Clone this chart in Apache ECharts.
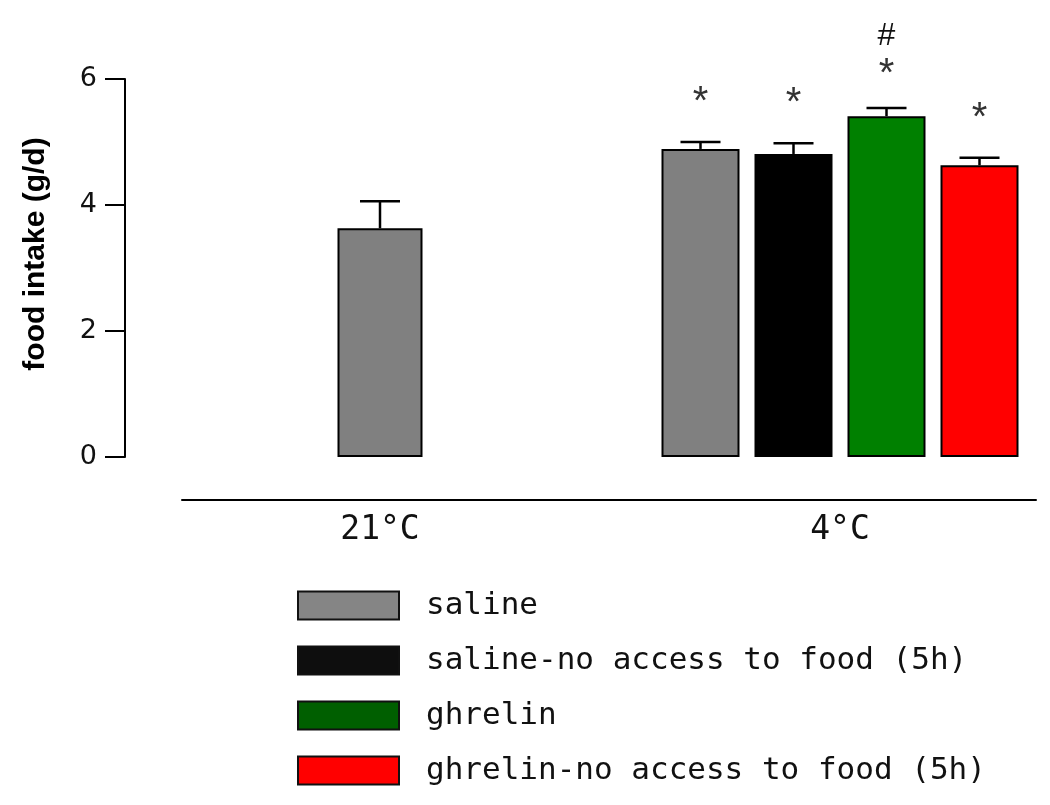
<!DOCTYPE html>
<html lang="en">
<head>
    <meta charset="UTF-8">
    <title>food intake</title>
    <script src="https://cdn.jsdelivr.net/npm/echarts@6/dist/echarts.min.js"></script>
</head>
<body style="margin: 0; background-color: #fff">
<div id="container" style="width: 1050px; height: 805px"></div>
<script type="text/javascript">
    // data
    let categories = ['21°C', '4°C'];
    let groups = ['saline', 'saline-no access to food (5h)', 'ghrelin', 'ghrelin-no access to food (5h)'];
    let barColors = ['#808080', '#000000', '#008000', '#ff0000'];
    let legendColors = ['#858585', '#0e0e0e', '#005f00', '#ff0000'];
    let warmMean = [3.63];
    let warmSem = [0.43];
    let coldMean = [4.89, 4.81, 5.41, 4.63];
    let coldSem = [0.11, 0.17, 0.13, 0.12];
    let coldStar = ['*', '*', '*', '*'];
    let coldHash = ['', '', '#', ''];
    let yMin = 0, yMax = 6, yStep = 2;

    const BAR_W = 78, GAP = 15, WARM_W = 85;
    const TEXT_FONT = 'DejaVu Sans Mono';

    let dom = document.getElementById('container');
    let myChart = echarts.init(dom);

    function drawError(api, x, mean, sem, star, hash) {
        let base = api.coord([api.value(0), mean]);
        let top = api.coord([api.value(0), mean + sem]);
        let line = {stroke: '#000', lineWidth: 2.5};
        let children = [
            {type: 'line', shape: {x1: x, y1: base[1], x2: x, y2: top[1]}, style: line},
            {type: 'line', shape: {x1: x - 20, y1: top[1], x2: x + 20, y2: top[1]}, style: line}
        ];
        if (star) {
            // star sits a bit lower when a # is stacked over it
            children.push({type: 'text', x: x, y: top[1] - (hash ? 33 : 39), style: {
                text: star, fontSize: 40, fontFamily: 'Liberation Sans', fill: '#333',
                align: 'center', verticalAlign: 'middle'}});
        }
        if (hash) {
            children.push({type: 'text', x: x, y: top[1] - 72, style: {
                text: hash, fontSize: 32, fontFamily: 'Liberation Sans', fill: '#111',
                align: 'center', verticalAlign: 'middle'}});
        }
        return {type: 'group', children: children};
    }

    let series = [];
    // 21°C saline bar
    series.push({
        name: groups[0], type: 'bar', xAxisIndex: 0, yAxisIndex: 0,
        barWidth: WARM_W, clip: false,
        data: [warmMean[0], '-'],
        itemStyle: {color: barColors[0], borderColor: '#000', borderWidth: 2}
    });
    series.push({
        type: 'custom', xAxisIndex: 0, yAxisIndex: 0, silent: true, clip: false,
        data: [[0, warmMean[0], warmSem[0]]],
        encode: {x: 0, y: 1},
        renderItem: function (params, api) {
            let c = api.coord([api.value(0), 0]);
            return drawError(api, c[0], api.value(1), api.value(2), '', '');
        },
        z: 3
    });
    // 4°C groups
    for (let i = 0; i < groups.length; i++) {
        series.push({
            name: groups[i], type: 'bar', xAxisIndex: 1, yAxisIndex: 0,
            barWidth: BAR_W, barGap: (GAP / BAR_W * 100) + '%', clip: false,
            data: ['-', coldMean[i]],
            itemStyle: {color: barColors[i], borderColor: '#000', borderWidth: 2}
        });
    }
    series.push({
        type: 'custom', xAxisIndex: 1, yAxisIndex: 0, silent: true, clip: false,
        data: coldMean.map(function (m, i) { return [1, m, coldSem[i], i]; }),
        encode: {x: 0, y: 1},
        renderItem: function (params, api) {
            let i = api.value(3);
            let c = api.coord([api.value(0), 0]);
            let x = c[0] + (i - (groups.length - 1) / 2) * (BAR_W + GAP);
            return drawError(api, x, api.value(1), api.value(2), coldStar[i], coldHash[i]);
        },
        z: 3
    });

    let option = {
        animation: false,
        grid: [
            // categories sit on the grid edges (boundaryGap false)
            {left: 380, right: 210, top: 79, bottom: 348},
            {left: 182, right: 14, top: 79, bottom: 348}
        ],
        legend: {
            orient: 'vertical',
            left: 297, top: 590, height: 215,
            padding: 0,
            itemWidth: 101, itemHeight: 28, itemGap: 24,
            icon: 'rect',
            selectedMode: false,
            data: groups.map(function (g, i) {
                return {name: g, itemStyle: {color: legendColors[i], borderColor: '#111', borderWidth: 2}};
            }),
            textStyle: {
                fontFamily: TEXT_FONT, fontSize: 31, color: '#111',
                padding: [0, 0, 0, 22]
            }
        },
        xAxis: [
            {
                gridIndex: 0, type: 'category', data: categories, boundaryGap: false,
                axisLine: {show: false}, axisTick: {show: false},
                axisLabel: {fontFamily: TEXT_FONT, fontSize: 33, color: '#111', margin: 57}
            },
            {gridIndex: 0, type: 'category', data: categories, boundaryGap: false, show: false},
            {
                gridIndex: 1, type: 'value', min: 0, max: 1,
                offset: 43,
                axisLine: {show: true, onZero: false, lineStyle: {color: '#000', width: 2}},
                axisTick: {show: false}, axisLabel: {show: false}, splitLine: {show: false}
            }
        ],
        yAxis: [
            {
                gridIndex: 0, type: 'value', min: yMin, max: yMax, interval: yStep,
                offset: 255,
                name: 'food intake (g/d)', nameLocation: 'middle', nameGap: 74,
                nameTextStyle: {
                    fontFamily: 'Liberation Sans', fontWeight: 'bold', fontSize: 30, color: '#000',
                    padding: [0, 0, 0, 28]
                },
                axisLine: {show: true, onZero: false, lineStyle: {color: '#000', width: 2}},
                axisTick: {show: true, length: 20, lineStyle: {color: '#000', width: 2}},
                axisLabel: {fontFamily: 'DejaVu Sans', fontSize: 27, color: '#111', margin: 28},
                splitLine: {show: false}
            },
            {gridIndex: 1, type: 'value', min: 0, max: 1, show: false}
        ],
        series: series
    };

    myChart.setOption(option);
</script>
</body>
</html>
